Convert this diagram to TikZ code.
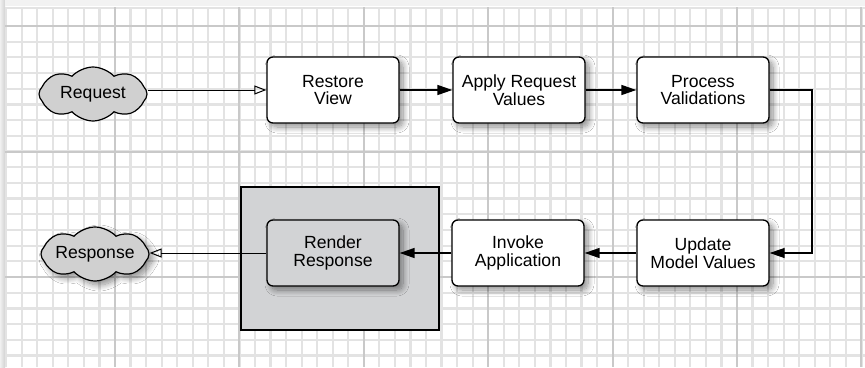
\documentclass[tikz,border=0pt]{standalone}
\usepackage{fontspec}
\setmainfont{Liberation Sans}
\usetikzlibrary{shapes.symbols,arrows.meta,shadows.blur}

\definecolor{gminor}{HTML}{E3E3E3}
\definecolor{gmajor}{HTML}{C9C9C9}
\definecolor{cloudgray}{HTML}{D0D0D0}
\definecolor{boxgray}{HTML}{D2D3D5}

\begin{document}
\begin{tikzpicture}[x=1pt,y=-1pt,
  txt/.style={font=\fontsize{17.6}{17.5}\selectfont, align=center},
  shad/.style={blur shadow={shadow xshift=4pt, shadow yshift=-4pt, shadow blur radius=6pt, shadow blur steps=12, shadow opacity=45}},
  phase/.style={txt, draw, line width=1.3pt, rounded corners=6pt, fill=white,
    minimum width=132pt, minimum height=66pt, inner sep=0pt, shad},
  cloudnode/.style={txt, cloud, cloud puffs=8, cloud puff arc=95, cloud ignores aspect,
    draw, line width=1.2pt, fill=cloudgray, minimum width=108pt, minimum height=54pt, inner sep=0pt},
  flow/.style={line width=1.4pt, -{Triangle[length=15pt,width=10pt]}},
  openflow/.style={line width=1pt, -{Triangle[open,length=12pt,width=9pt,line width=1pt]}}
]
\useasboundingbox (0,0) rectangle (865,367);
\fill[white] (0,0) rectangle (865,367);
% edge shadows of the sheet
\shade[left color=gray!12, right color=gray!35] (0,0) rectangle (5,367);
\fill[gray!10] (5,0) rectangle (865,6);
% grid
\begin{scope}
\clip (5,7) rectangle (865,367);
\foreach \k in {-7,...,48} {
  \pgfmathsetmacro\xx{115+15.55*\k}
  \draw[gminor, line width=2.2pt] (\xx,7) -- (\xx,367);
}
\foreach \k in {0,...,21} {
  \pgfmathsetmacro\yy{26+15.69*\k}
  \draw[gminor, line width=2.2pt] (5,\yy) -- (865,\yy);
}
\draw[gminor, line width=2.2pt] (5,7.5) -- (865,7.5);
\foreach \k in {0,8,...,48} {
  \pgfmathsetmacro\xx{115+15.55*\k}
  \draw[gmajor, line width=2pt] (\xx,7) -- (\xx,367);
}
\foreach \k in {0,8,16} {
  \pgfmathsetmacro\yy{26+15.69*\k}
  \draw[gmajor, line width=2pt] (5,\yy) -- (865,\yy);
}
\end{scope}

% highlighted region
\node[draw, line width=1.4pt, fill=boxgray, minimum width=198pt, minimum height=143pt, inner sep=0pt] (frame) at (340,258.5) {};

% nodes
\node[cloudnode] (req) at (93,94) {Request};
\node[cloudnode, shad] (resp) at (95,254) {Response};
\node[phase] (restore) at (333,90) {Restore\\View};
\node[phase] (apply) at (519,90) {Apply Request\\Values};
\node[phase] (process) at (703,90) {Process\\Validations};
\node[phase] (update) at (703,253) {Update\\Model Values};
\node[phase] (invoke) at (518,253) {Invoke\\Application};
\node[phase, fill=boxgray] (render) at (333,253) {Render\\Response};
\coordinate (bend) at (812,0);

% connectors
\draw[openflow] ([yshift=4pt]req.east) -- (restore.west);
\draw[flow] (restore) -- (apply);
\draw[flow] (apply) -- (process);
\draw[flow, line width=1.1pt] (process.east) -- (process.east -| bend) -- (update.east -| bend) -- (update.east);
\draw[flow] (update) -- (invoke);
\draw[flow] (invoke) -- (render);
\draw[openflow] (render.west) -- (render.west -| resp.east);
\end{tikzpicture}
\end{document}
